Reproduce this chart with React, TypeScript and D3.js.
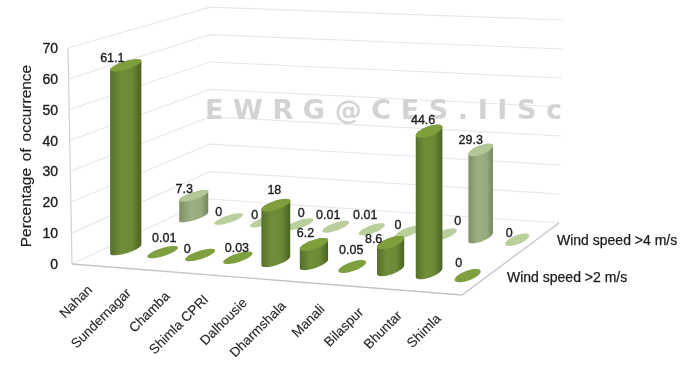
import React from "react";
import * as d3 from "d3";

const categories = ["Nahan","Sundernagar","Chamba","Shimla CPRI","Dalhousie","Dharmshala","Manali","Bilaspur","Bhuntar","Shimla"];
const above2 = ["61.1","0.01","0","0.03","18","6.2","0.05","8.6","44.6","0"];
const above4 = ["7.3","0","0","0","0.01","0.01","0","0","29.3","0"];
const seriesNames = ["Wind speed >2 m/s","Wind speed >4 m/s"];
const yTicks = [0,10,20,30,40,50,60,70];

// label nudges relative to each mark's top centre
const nudge2 = [[-13.5,-7],[1.5,-14],[-13,-6],[-1,-10],[-1.5,-15],[-8.5,-11.5],[-1,-17],[-17,-3.6],[-6,-11],[-9,-12.5]];
const nudge4 = [[-9.5,-7],[-10,-7],[-9.5,-7],[1.5,-11],[-7.5,-12],[-6.5,-14],[-10,-7],[13.5,-14],[-10,-10],[-8,-7]];

// floor quadrilateral of the 3-D box
const FL = { x: 72, y: 264, s: 3.086, lean: -4 };
const FR = { x: 462, y: 295, s: 3.3, lean: 0 };
const BL = { x: 210, y: 199, s: 2.74, lean: 0 };
const BR = { x: 559, y: 223, s: 2.9, lean: 4 };

const band = d3.scaleBand<string>().domain(categories).range([0.004, 1.002]);
const warp = d3.scalePow().exponent(1.02).domain([0, 1]).range([0, 1]);
const centre = (c: string) => warp(band(c)! + band.bandwidth() / 2);
const depth = d3.scaleOrdinal<string, number>().domain(seriesNames).range([0.25, 0.75]);
const hScale = d3.scaleLinear().domain([0, 70]).range([0, 1]);

const bil = (k: "x" | "y" | "s" | "lean", u: number, v: number) =>
  d3.interpolateNumber(
    d3.interpolateNumber(FL[k], FR[k])(u),
    d3.interpolateNumber(BL[k], BR[k])(u)
  )(v);

const project = (u: number, v: number, h = 0): [number, number] => [
  bil("x", u, v),
  bil("y", u, v) - bil("s", u, v) * h,
];
const wall = (u: number, v: number, h: number): [number, number] => {
  const p = project(u, v, h);
  return [p[0] + bil("lean", u, v) * hScale(h), p[1]];
};

const disc = (u: number, v: number, h: number): [number, number][] => {
  const k = 1 - 0.1 * v;
  return d3.range(0, 48).map((i) => {
    const t = (i / 48) * 2 * Math.PI;
    return project(u + 0.025 * k * Math.cos(t), v + 0.095 * k * Math.sin(t), 0).map((c, j) =>
      j === 1 ? c - bil("s", u, v) * h : c
    ) as [number, number];
  });
};
const closed = d3.line().curve(d3.curveLinearClosed);
const seg = d3.line();

const font = "'Liberation Sans', Arial, sans-serif";
const ink = "#1c1c1c";

const Series = ({ name, values, top, flat, grad }: any) => {
  const v = depth(name);
  return (
    <g>
      {categories.map((c, i) => {
        const u = centre(c);
        const h = +values[i];
        const solid = h >= 1;
        const topRing = disc(u, v, h);
        const hull = d3.polygonHull([...disc(u, v, 0), ...topRing]) as [number, number][];
        return (
          <g key={c}>
            {solid && <path d={closed(hull)!} fill={`url(#${grad})`} />}
            <path d={closed(topRing)!} fill={solid ? top : flat} />
          </g>
        );
      })}
    </g>
  );
};

const Labels = ({ name, values, nudge }: any) => {
  const v = depth(name);
  return (
    <g fontFamily={font} fontSize={12.5} fill={ink} stroke={ink} strokeWidth={0.35} textAnchor="middle" dominantBaseline="central">
      {categories.map((c, i) => {
        const [x, y] = project(centre(c), v, +values[i]);
        return (
          <text key={c} x={x + nudge[i][0]} y={y + nudge[i][1]}>
            {values[i]}
          </text>
        );
      })}
    </g>
  );
};

export default function App() {
  return (
    <svg width={695} height={386} style={{ position: "absolute", left: 0, top: 0, background: "#fff" }}>
      <defs>
        <linearGradient id="g2" x1="0" x2="1" y1="0" y2="0">
          <stop offset="0" stopColor="#55702a" />
          <stop offset="0.35" stopColor="#6f8e38" />
          <stop offset="0.7" stopColor="#6c8a36" />
          <stop offset="1" stopColor="#4a6222" />
        </linearGradient>
        <linearGradient id="g4" x1="0" x2="1" y1="0" y2="0">
          <stop offset="0" stopColor="#7e9165" />
          <stop offset="0.4" stopColor="#9db084" />
          <stop offset="0.75" stopColor="#97aa7d" />
          <stop offset="1" stopColor="#74875c" />
        </linearGradient>
        <filter id="soft" x="-5%" y="-5%" width="110%" height="110%">
          <feGaussianBlur stdDeviation="0.45" />
        </filter>
      </defs>
      <g filter="url(#soft)">
        {yTicks.map((t) => (
          <path
            key={t}
            d={seg([wall(0, 0, t), wall(0, 1, t), wall(1, 1, t)])!}
            fill="none"
            stroke="#e8e8e8"
            strokeWidth={1.2}
          />
        ))}
        <path d={seg([wall(0, 0, 0), wall(0, 0, 70)])!} stroke="#d2d2d2" strokeWidth={1.2} fill="none" />
        <path d={seg([wall(0, 0, 0), wall(1, 0, 0), wall(1, 1, 0)])!} stroke="#c4c4c4" strokeWidth={1.3} fill="none" />

        <text
          x={205}
          y={119}
          textLength={357}
          lengthAdjust="spacing"
          fontFamily="'DejaVu Sans', sans-serif"
          fontWeight="bold"
          fontSize={27}
          fill="#d3d3d3"
        >
          E W R G @ C E S . I I S c
        </text>

        <Series name={seriesNames[1]} values={above4} top="#b2c795" flat="#b9cf9c" grad="g4" />
        <Series name={seriesNames[0]} values={above2} top="#7f9f3c" flat="#7ea03f" grad="g2" />

        <Labels name={seriesNames[1]} values={above4} nudge={nudge4} />
        <Labels name={seriesNames[0]} values={above2} nudge={nudge2} />

        <g fontFamily={font} fontSize={14} fill={ink} stroke={ink} strokeWidth={0.35} textAnchor="end" dominantBaseline="central">
          {yTicks.map((t) => (
            <text key={t} x={58} y={wall(0, 0, t)[1]}>
              {t}
            </text>
          ))}
        </g>
        <text
          transform="translate(25,156) rotate(-90)"
          fontFamily={font}
          fontSize={15.5}
          fill={ink}
          stroke={ink}
          strokeWidth={0.15}
          textAnchor="middle"
          dominantBaseline="central"
          wordSpacing={2.5}
        >
          Percentage of occurrence
        </text>
        <g fontFamily={font} fontSize={13.5} fill="#262626" stroke="#262626" strokeWidth={0.12} textAnchor="end">
          {categories.map((c, i) => {
            const [x, y] = project(band(c)! + band.bandwidth() / 2, 0);
            return (
              <text key={c} transform={`translate(${x - 0.2 * i},${y + 25 + 0.1 * i}) rotate(-45)`}>
                {c}
              </text>
            );
          })}
        </g>
        <g fontFamily={font} fontSize={14} fill={ink} stroke={ink} strokeWidth={0.25} dominantBaseline="central">
          <text x={557} y={240}>{seriesNames[1]}</text>
          <text x={507} y={277}>{seriesNames[0]}</text>
        </g>
      </g>
    </svg>
  );
}
